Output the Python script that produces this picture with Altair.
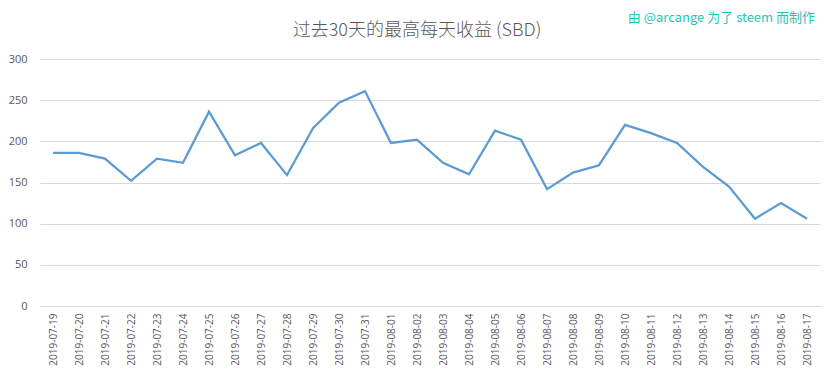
import altair as alt
import pandas as pd

dates = ["2019-07-19","2019-07-20","2019-07-21","2019-07-22","2019-07-23","2019-07-24",
         "2019-07-25","2019-07-26","2019-07-27","2019-07-28","2019-07-29","2019-07-30",
         "2019-07-31","2019-08-01","2019-08-02","2019-08-03","2019-08-04","2019-08-05",
         "2019-08-06","2019-08-07","2019-08-08","2019-08-09","2019-08-10","2019-08-11",
         "2019-08-12","2019-08-13","2019-08-14","2019-08-15","2019-08-16","2019-08-17"]
values = [186, 186, 179, 152, 179, 174, 236, 183, 198, 159, 216, 247, 261, 198, 202,
          174, 160, 213, 202, 142, 162, 171, 220, 210, 198, 169, 145, 106, 125, 106]
y_ticks = [0, 50, 100, 150, 200, 250, 300]

df = pd.DataFrame({"date": dates, "value": values})

title_text = "过去30天的最高每天收益 (SBD)"
credit_text = "由 @arcange 为了 steem 而制作"

line = alt.Chart(df).mark_line(color="#5B9BD5", strokeWidth=2.25).encode(
    x=alt.X("date:O", sort=dates,
            scale=alt.Scale(type="point", padding=0.5),
            axis=alt.Axis(title=None, labelAngle=-90, labelAlign="right", labelBaseline="middle",
                          labelPadding=7, ticks=False, domain=False, grid=False,
                          labelFontSize=10, labelColor="#595959", labelFont="Open Sans")),
    y=alt.Y("value:Q", scale=alt.Scale(domain=[0, 300], nice=False),
            axis=alt.Axis(title=None, values=y_ticks, ticks=False, domain=False,
                          grid=True, gridColor="#d9d9d9", gridWidth=1,
                          labelPadding=13, labelFontSize=11, labelColor="#595959",
                          labelFont="Open Sans")),
)

title = alt.Chart(pd.DataFrame({"t": [title_text]})).mark_text(
    align="center", baseline="middle", fontSize=18, color="#595959",
    font="Noto Sans CJK SC", fontWeight=300
).encode(x=alt.value(377), y=alt.value(-28), text="t:N")

credit = alt.Chart(pd.DataFrame({"t": [credit_text]})).mark_text(
    align="right", baseline="middle", fontSize=13, color="#1FC6B4",
    font="Noto Sans CJK SC"
).encode(x=alt.value(775), y=alt.value(-41), text="t:N")

chart = alt.layer(line, title, credit).properties(
    width=780, height=247,
    padding={"left": 32, "top": 51, "right": 5, "bottom": 60},
    autosize=alt.AutoSizeParams(type="none"),
    view=alt.ViewBackground(stroke="transparent", strokeWidth=0),
).configure_view(stroke="transparent", strokeWidth=0).configure(background="white")

chart.save("out.html", embed_options={"renderer": "svg", "actions": False})
